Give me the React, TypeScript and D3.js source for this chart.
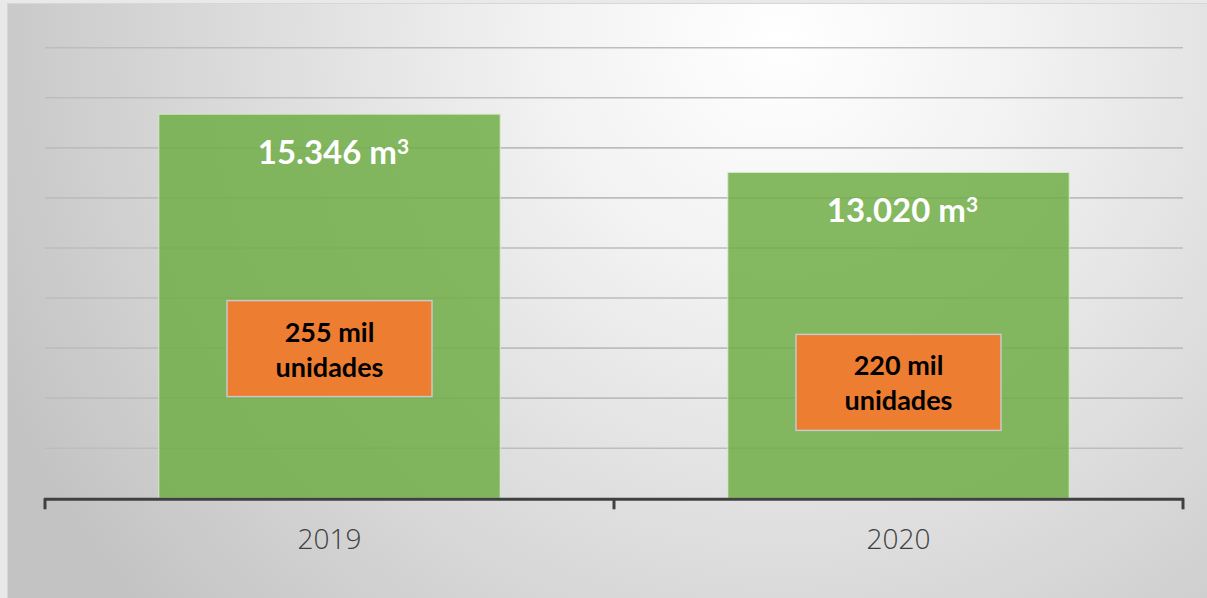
import React from "react";
import * as d3 from "d3";

const years = ["2019", "2020"];
const volumes = [15346, 13020];
const volumeLabels = ["15.346 m", "13.020 m"];
const volumeSup = ["3", "3"];
const unitLine1 = ["255 mil", "220 mil"];
const unitLine2 = ["unidades", "unidades"];
const unitAnchor = [5980, 4630];
const yTicks = [2000, 4000, 6000, 8000, 10000, 12000, 14000, 16000, 18000];

const W = 1207;
const H = 598;

export default function App() {
  const x = d3
    .scaleBand<string>()
    .domain(years)
    .range([45, 1183])
    .paddingInner(0.4)
    .paddingOuter(0.2);
  const y = d3.scaleLinear().domain([0, 18000]).range([498.3, 47.7]);
  const [r0, r1] = x.range();
  const boundaries = d3.range(years.length + 1).map((i) => r0 + (i * (r1 - r0)) / years.length);

  return (
    <div style={{ position: "absolute", left: 0, top: 0 }}>
      <svg width={W} height={H} style={{ display: "block" }}>
        <defs>
          <radialGradient id="bg" gradientUnits="userSpaceOnUse" cx={780} cy={40} r={860}>
            <stop offset="0" stopColor="#ffffff" />
            <stop offset="0.28" stopColor="#f2f2f2" />
            <stop offset="1" stopColor="#c3c3c3" />
          </radialGradient>
        </defs>
        <rect x={0} y={0} width={W} height={H} fill="#e9e9e9" />
        <rect x={7} y={3} width={W - 7} height={H - 3} fill="url(#bg)" />
        <line x1={7} x2={W} y1={3.5} y2={3.5} stroke="#d6d6d6" strokeWidth={1} />
        <line x1={7.5} x2={7.5} y1={3} y2={H} stroke="#d6d6d6" strokeWidth={1} />

        {yTicks.map((t) => (
          <line
            key={t}
            x1={45}
            x2={1183}
            y1={y(t)}
            y2={y(t)}
            stroke="#bdbdbd"
            strokeWidth={1.6}
          />
        ))}

        {years.map((yr, i) => (
          <rect
            key={yr}
            x={x(yr)}
            y={y(volumes[i])}
            width={x.bandwidth()}
            height={y(0) - y(volumes[i])}
            fill="#70ad47"
            fillOpacity={0.85}
            stroke="#d9ecc9"
            strokeWidth={1}
          />
        ))}

        {years.map((yr, i) => {
          const cx = (x(yr) as number) + x.bandwidth() / 2;
          return (
            <text
              key={"v" + yr}
              x={cx + 4}
              y={y(volumes[i]) + 50}
              textAnchor="middle"
              fontFamily="Lato, 'Open Sans', sans-serif"
              fontWeight={700}
              fontSize={33}
              fill="#ffffff"
            >
              {volumeLabels[i]}
              <tspan fontSize={21} dy={-10}>
                {volumeSup[i]}
              </tspan>
            </text>
          );
        })}

        {years.map((yr, i) => {
          const cx = (x(yr) as number) + x.bandwidth() / 2;
          const cy = y(unitAnchor[i]);
          const bw = 205;
          const bh = 96;
          return (
            <g key={"u" + yr}>
              <rect
                x={cx - bw / 2}
                y={cy - bh / 2}
                width={bw}
                height={bh}
                fill="#ed7d31"
                stroke="#c9c9c9"
                strokeWidth={1.5}
              />
              <text
                x={cx}
                y={cy - 7}
                textAnchor="middle"
                fontFamily="Lato, 'Open Sans', sans-serif"
                fontWeight={700}
                fontSize={27}
                fill="#000000"
              >
                {unitLine1[i]}
              </text>
              <text
                x={cx}
                y={cy + 28}
                textAnchor="middle"
                fontFamily="Lato, 'Open Sans', sans-serif"
                fontWeight={700}
                fontSize={27}
                fill="#000000"
              >
                {unitLine2[i]}
              </text>
            </g>
          );
        })}

        <line x1={44} x2={1184} y1={y(0) + 1} y2={y(0) + 1} stroke="#404040" strokeWidth={3} />
        {boundaries.map((bx, i) => (
          <line
            key={"t" + i}
            x1={bx}
            x2={bx}
            y1={y(0)}
            y2={y(0) + 11}
            stroke="#404040"
            strokeWidth={3}
          />
        ))}

        {years.map((yr) => (
          <text
            key={"l" + yr}
            x={(x(yr) as number) + x.bandwidth() / 2}
            y={549}
            textAnchor="middle"
            fontFamily="'Open Sans', sans-serif"
            fontWeight={300}
            fontSize={28}
            fill="#404040"
          >
            {yr}
          </text>
        ))}
      </svg>
    </div>
  );
}
